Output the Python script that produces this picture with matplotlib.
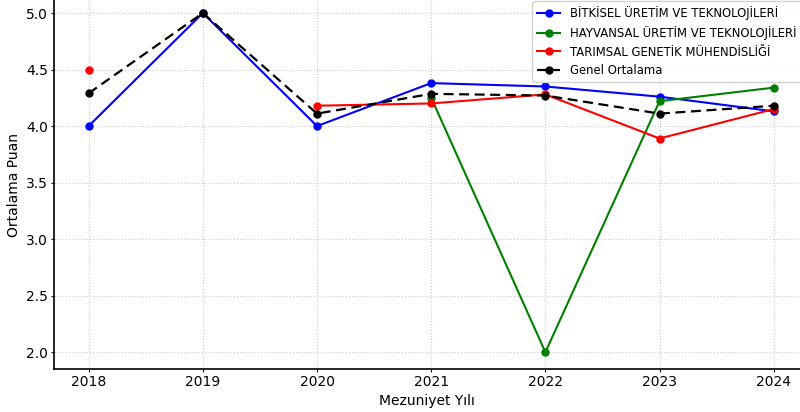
import numpy as np
import matplotlib.pyplot as plt

years = [2018, 2019, 2020, 2021, 2022, 2023, 2024]
bitkisel = [4.00, 5.00, 4.00, 4.38, 4.35, 4.26, 4.13]
hayvansal = [np.nan, np.nan, np.nan, 4.25, 2.00, 4.22, 4.34]
tarimsal = [4.50, np.nan, 4.18, 4.20, 4.28, 3.89, 4.15]
genel = [4.29, 5.00, 4.11, 4.285, 4.27, 4.11, 4.18]

fig = plt.figure(figsize=(8, 4.12), dpi=100)
ax = fig.add_axes([0.068, 0.104, 0.932, 0.896])

ax.plot(years, bitkisel, marker='o', color='blue', markersize=5, linewidth=1.5,
        label='BİTKİSEL ÜRETİM VE TEKNOLOJİLERİ')
ax.plot(years, hayvansal, marker='o', color='green', markersize=5, linewidth=1.5,
        label='HAYVANSAL ÜRETİM VE TEKNOLOJİLERİ')
ax.plot(years, tarimsal, marker='o', color='red', markersize=5, linewidth=1.5,
        label='TARIMSAL GENETİK MÜHENDİSLİĞİ')
ax.plot(years, genel, marker='o', color='black', markersize=5, linewidth=1.6,
        linestyle=(0, (4.5, 2.5)), label='Genel Ortalama')

ax.set_xlim(2017.7, 2024.23)
ax.set_ylim(1.85, 5.115)
ax.set_xticks(years)
ax.set_yticks([2.0, 2.5, 3.0, 3.5, 4.0, 4.5, 5.0])
ax.set_xlabel('Mezuniyet Yılı', fontsize=10, labelpad=3)
ax.set_ylabel('Ortalama Puan', fontsize=10, labelpad=4)
ax.grid(True, linestyle=':', color='#cccccc', linewidth=0.8)
ax.spines['top'].set_visible(False)
ax.spines['right'].set_visible(False)
ax.spines['left'].set_linewidth(1.2)
ax.spines['bottom'].set_linewidth(1.2)
ax.tick_params(labelsize=10, length=2, pad=2.5)
ax.legend(loc='upper right', bbox_to_anchor=(1.006, 1.006), fontsize=8.4,
          framealpha=0.9, borderaxespad=0.3, labelspacing=0.5)

plt.savefig('out.png', dpi=100)
